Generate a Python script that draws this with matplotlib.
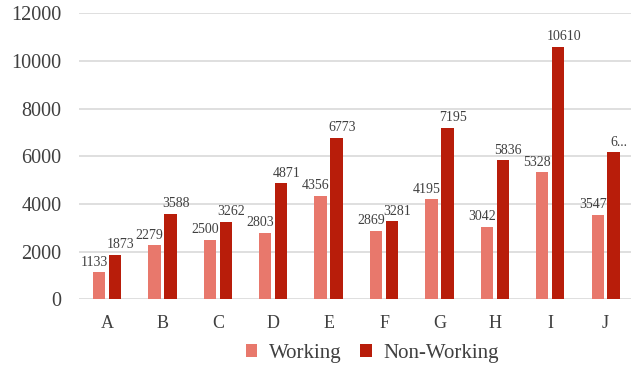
import matplotlib
matplotlib.use("Agg")
import matplotlib.pyplot as plt
import numpy as np

categories = ["A", "B", "C", "D", "E", "F", "G", "H", "I", "J"]
working = [1133, 2279, 2500, 2803, 4356, 2869, 4195, 3042, 5328, 3547]
non_working = [1873, 3588, 3262, 4871, 6773, 3281, 7195, 5836, 10610, 6170]
yticks = [0, 2000, 4000, 6000, 8000, 10000, 12000]

c_work = "#E8786C"
c_non = "#B81D0A"
c_text = "#404040"

plt.rcParams["font.family"] = ["Liberation Serif", "DejaVu Serif"]

fig = plt.figure(figsize=(6.31, 3.67), dpi=100)
# axes runs slightly past the right edge of the canvas
ax = fig.add_axes([0.1257, 0.1845, 0.878, 0.779])

x = np.arange(len(categories))
w = 0.222
off = 0.144
b1 = ax.bar(x - off, working, w, color=c_work, label="Working", zorder=3)
b2 = ax.bar(x + off, non_working, w, color=c_non, label="Non-Working", zorder=3)

for xi, v in zip(x - off, working):
    ax.annotate(str(v), (xi, v), xytext=(-3.5, 2.5), textcoords="offset points",
                ha="center", va="bottom", fontsize=10, color=c_text)
for i, (xi, v) in enumerate(zip(x + off, non_working)):
    s = str(v) if i < len(categories) - 1 else str(v)[0] + "..."
    ax.annotate(s, (xi, v), xytext=(4, 2.5), textcoords="offset points",
                ha="center", va="bottom", fontsize=10, color=c_text)

ax.set_xlim(-0.5, len(categories) - 0.5)
ax.set_ylim(0, 12000)
ax.set_yticks(yticks)
ax.set_xticks(x)
ax.set_xticklabels(categories)
ax.tick_params(axis="both", length=0, colors=c_text)
ax.tick_params(axis="y", pad=13, labelsize=14.5)
ax.tick_params(axis="x", pad=11, labelsize=13)
ax.grid(axis="y", color="#D9D9D9", linewidth=1.2, zorder=0)
for s in ax.spines.values():
    s.set_visible(False)

fig.legend(handles=[b1, b2], labels=["Working", "Non-Working"], loc="center",
           bbox_to_anchor=(0.59, 0.037), ncol=2, frameon=False, fontsize=15,
           handlelength=0.55, handleheight=0.55, handletextpad=0.55, columnspacing=0.9,
           labelcolor=c_text)

fig.savefig("out.png", dpi=100)
